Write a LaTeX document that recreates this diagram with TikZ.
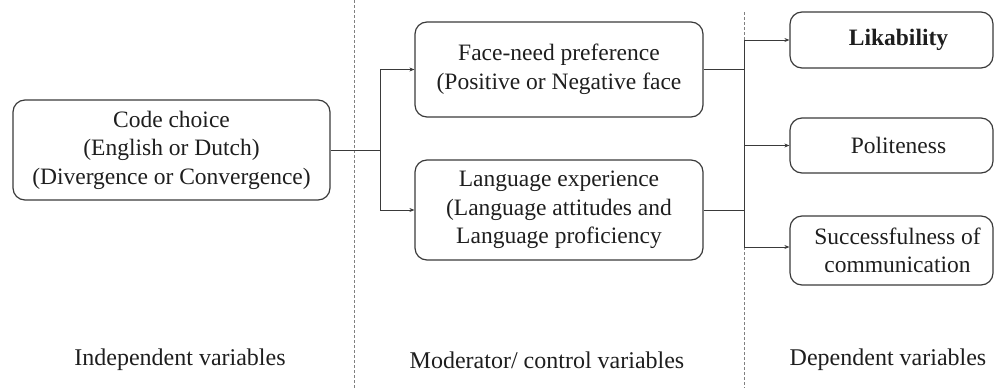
\documentclass[tikz,border=0pt]{standalone}
\usepackage{fontspec}
\setmainfont{Liberation Serif}
\usetikzlibrary{arrows.meta}
\definecolor{ink}{HTML}{1E1E1E}
\definecolor{edge}{HTML}{3A3A3A}
\begin{document}
\begin{tikzpicture}[x=1pt,y=-1pt,
  varbox/.style={draw=edge, line width=1.2pt, rounded corners=12pt, align=center,
    text=ink, inner sep=0pt, font=\fontsize{23.5}{28.5}\selectfont},
  link/.style={draw=edge, line width=0.9pt},
  arr/.style={link, -{Stealth[length=5pt,width=4pt]}},
  divider/.style={draw=gray, line width=0.7pt, dash pattern=on 3pt off 2pt},
  caption/.style={text=ink, font=\fontsize{24}{28}\selectfont, inner sep=0pt}]
\useasboundingbox (0,0) rectangle (995,388);

% column dividers
\draw[divider] (354,0) -- (354,388);
\draw[divider] (744,12) -- (744,388);

% independent variable
\node[varbox, minimum width=317pt, minimum height=100pt] (code) at (171.5,150)
  {Code choice\\(English or Dutch)\\(Divergence or Convergence)};

% moderators
\node[varbox, minimum width=288pt, minimum height=95pt] (face) at (559,69.5)
  {Face-need preference\\(Positive or Negative face};
\node[varbox, minimum width=288pt, minimum height=100pt] (lang) at (559,210)
  {Language experience\\(Language attitudes and\\Language proficiency};

% dependent variables
\node[varbox, minimum width=203pt, minimum height=56pt] (lik) at (891.5,40)
  {\hspace*{14pt}\textbf{Likability}};
\node[varbox, minimum width=203pt, minimum height=55pt] (pol) at (891.5,145.5)
  {\hspace*{14pt}Politeness};
\node[varbox, minimum width=203pt, minimum height=69pt] (succ) at (891.5,250.5)
  {\hspace*{12pt}Successfulness of\\\hspace*{12pt}communication};

% left branching
\coordinate (jl) at (380,150);
\draw[link] (code.east) -- (jl);
\draw[link] (jl |- face.west) -- (jl |- lang.west);
\draw[arr] (jl |- face.west) -- (face.west);
\draw[arr] (jl |- lang.west) -- (lang.west);

% right branching
\coordinate (jr) at (744,40);
\coordinate (jrb) at (744,247);
\draw[link] (face.east) -- (jr |- face.east);
\draw[link] (lang.east) -- (jr |- lang.east);
\draw[link] (jr) -- (jrb);
\draw[arr] (jr) -- (lik.west);
\draw[arr] (jr |- pol.west) -- (pol.west);
\draw[arr] (jrb) -- (succ.west |- jrb);

% column captions
\node[caption] (c1) at (180,360) {Independent variables};
\node[caption] (c2) at (547,360) {Moderator/ control variables};
\node[caption] (c3) at (888,360) {Dependent variables};
\end{tikzpicture}
\end{document}
